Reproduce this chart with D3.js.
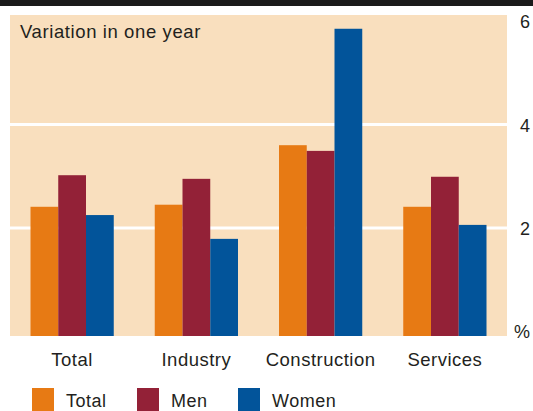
<!DOCTYPE html>
<html>
<head>
<meta charset="utf-8">
<script src="https://cdn.jsdelivr.net/npm/d3@7"></script>
<style>
  html, body { margin: 0; padding: 0; background: #fff; }
  svg { display: block; font-family: "Liberation Sans", Arial, sans-serif; }
</style>
</head>
<body>
<svg id="chart" width="533" height="411"></svg>
<script>
// chart data
const categories = ["Total", "Industry", "Construction", "Services"];
const seriesNames = ["Total", "Men", "Women"];
const totalValues = [2.41, 2.45, 3.60, 2.41];
const menValues = [3.02, 2.95, 3.49, 2.99];
const womenValues = [2.25, 1.79, 5.85, 2.06];
const tickValues = [2, 4, 6];
const gridValues = [2, 4];
const title = "Variation in one year";
const unitLabel = "%";

const colors = ["#e77a14", "#932137", "#02549a"];
const textColor = "#231f20";

const W = 533, H = 411;
const plot = { left: 10, right: 507, top: 15, bottom: 336 };

const svg = d3.select("#chart");

// top black rule
svg.append("rect")
  .attr("x", 0).attr("y", 0)
  .attr("width", W).attr("height", 6)
  .attr("fill", "#1a1a1a");

// plot background
svg.append("rect")
  .attr("x", plot.left).attr("y", plot.top)
  .attr("width", plot.right - plot.left)
  .attr("height", plot.bottom - plot.top)
  .attr("fill", "#f9dfbe");

const x0 = d3.scaleBand()
  .domain(categories)
  .range([plot.left, plot.right])
  .paddingInner(0.33)
  .paddingOuter(0.165);

const x1 = d3.scaleBand()
  .domain(seriesNames)
  .range([0, x0.bandwidth()]);

const y = d3.scaleLinear()
  .domain([0, 6])
  .range([331.5, 21]);

// white gridlines
svg.append("g")
  .selectAll("line")
  .data(gridValues)
  .join("line")
  .attr("x1", plot.left)
  .attr("x2", plot.right)
  .attr("y1", d => y(d))
  .attr("y2", d => y(d))
  .attr("stroke", "#fff")
  .attr("stroke-width", 3);

const rows = categories.map((c, i) => ({
  cat: c,
  vals: [totalValues[i], menValues[i], womenValues[i]]
}));

svg.append("g")
  .selectAll("g")
  .data(rows)
  .join("g")
  .attr("transform", d => `translate(${x0(d.cat)},0)`)
  .selectAll("rect")
  .data(d => d.vals.map((v, j) => ({ name: seriesNames[j], v, j })))
  .join("rect")
  .attr("x", d => x1(d.name))
  .attr("width", x1.bandwidth())
  .attr("y", d => y(d.v))
  .attr("height", d => plot.bottom - y(d.v))
  .attr("fill", d => colors[d.j]);

// right-hand value labels
svg.append("g")
  .selectAll("text")
  .data(tickValues)
  .join("text")
  .attr("x", 525)
  .attr("y", d => y(d) + 7)
  .attr("text-anchor", "middle")
  .attr("font-size", 18)
  .attr("fill", textColor)
  .text(d => d);

svg.append("text")
  .attr("x", 522)
  .attr("y", 338)
  .attr("text-anchor", "middle")
  .attr("font-size", 18)
  .attr("fill", textColor)
  .text(unitLabel);

// title inside plot
svg.append("text")
  .attr("x", 20)
  .attr("y", 38)
  .attr("font-size", 18.5)
  .attr("letter-spacing", 0.6)
  .attr("fill", textColor)
  .text(title);

// category labels
svg.append("g")
  .selectAll("text")
  .data(categories)
  .join("text")
  .attr("x", d => x0(d) + x0.bandwidth() / 2)
  .attr("y", 366)
  .attr("text-anchor", "middle")
  .attr("font-size", 18.5)
  .attr("letter-spacing", 0.5)
  .attr("fill", textColor)
  .text(d => d);

// legend
const legendX = [32, 137, 238];
const legend = svg.append("g")
  .selectAll("g")
  .data(seriesNames)
  .join("g")
  .attr("transform", (d, i) => `translate(${legendX[i]},388)`);

legend.append("rect")
  .attr("width", 22).attr("height", 23)
  .attr("fill", (d, i) => colors[i]);

legend.append("text")
  .attr("x", 34)
  .attr("y", 19)
  .attr("font-size", 18)
  .attr("letter-spacing", 0.5)
  .attr("fill", textColor)
  .text(d => d);
</script>
</body>
</html>
